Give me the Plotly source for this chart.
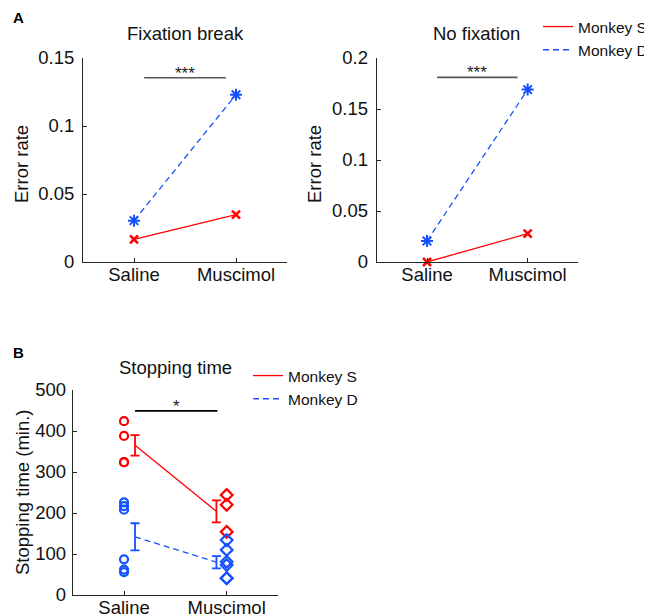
import plotly.graph_objects as go

W, H = 652, 615
OX, OY = 8, 8  # page body margin offset in the browser
RED = "rgb(255,0,0)"
BLUE = "rgb(20,80,255)"
FONT = "Liberation Sans, Arial, Helvetica, sans-serif"
FS = 18.5

# ---------------- data ----------------
conditions = ["Saline", "Muscimol"]
cond_x = [1, 2]

# Panel A: error rates
fix_break_S = [0.0167, 0.0348]
fix_break_D = [0.0304, 0.1230]
no_fix_S = [0.0, 0.0278]
no_fix_D = [0.0206, 0.1690]

# Panel B: stopping time (min.) per session
stop_S_saline = [424, 388, 324, 324]
stop_S_muscimol = [244, 220, 154]
stop_D_saline = [226, 217, 208, 87, 62, 56]
stop_D_muscimol = [134, 110, 81, 73, 41, 41]
mean_x = [1.107, 1.90]
stop_S_mean = [365, 204]
stop_S_sem = [25, 27]
stop_D_mean = [142, 80]
stop_D_sem = [33, 15]

# significance bars: (x0, x1, y, label)
sig_A1 = (1.1, 1.9, 0.1355, "***")
sig_A2 = (1.1, 1.9, 0.181, "***")
sig_B = (1.107, 1.91, 449, "*")

A_left_ticks = [0, 0.05, 0.1, 0.15]
A_left_labels = ["0", "0.05", "0.1", "0.15"]
A_right_ticks = [0, 0.05, 0.1, 0.15, 0.2]
A_right_labels = ["0", "0.05", "0.1", "0.15", "0.2"]
B_ticks = [0, 100, 200, 300, 400, 500]
B_labels = ["0", "100", "200", "300", "400", "500"]

fig = go.Figure()

def px(x):
    return (x - OX) / W

def py(y):
    return 1 - (y - OY) / H

def dom_x(a, b):
    return [px(a), px(b)]

def dom_y(top, bottom):
    return [py(bottom), py(top)]

# ---------- Panel A left ----------
for name, ys, col, dash, sym, size, lw in [
    ("Monkey S", fix_break_S, RED, "solid", "x-thin-open", 8, 2.5),
    ("Monkey D", fix_break_D, BLUE, "6px,4px", "asterisk-open", 10, 2),
]:
    fig.add_trace(go.Scatter(x=cond_x, y=ys, mode="lines", name=name,
                             line=dict(color=col, width=1.3, dash=dash),
                             xaxis="x", yaxis="y", legend="legend", showlegend=True))
    fig.add_trace(go.Scatter(x=cond_x, y=ys, mode="markers", showlegend=False,
                             marker=dict(symbol=sym, size=size, color=col,
                                         line=dict(color=col, width=lw)),
                             xaxis="x", yaxis="y", cliponaxis=False))

# ---------- Panel A right ----------
for name, ys, col, dash, sym, size, lw in [
    ("Monkey S", no_fix_S, RED, "solid", "x-thin-open", 8, 2.5),
    ("Monkey D", no_fix_D, BLUE, "6px,4px", "asterisk-open", 10, 2),
]:
    fig.add_trace(go.Scatter(x=cond_x, y=ys, mode="lines", showlegend=False,
                             line=dict(color=col, width=1.3, dash=dash),
                             xaxis="x2", yaxis="y2"))
    fig.add_trace(go.Scatter(x=cond_x, y=ys, mode="markers", showlegend=False,
                             marker=dict(symbol=sym, size=size, color=col,
                                         line=dict(color=col, width=lw)),
                             xaxis="x2", yaxis="y2", cliponaxis=False))

# ---------- Panel B ----------
for name, means, sems, col, dash in [
    ("Monkey S", stop_S_mean, stop_S_sem, RED, "solid"),
    ("Monkey D", stop_D_mean, stop_D_sem, BLUE, "6px,4px"),
]:
    fig.add_trace(go.Scatter(x=mean_x, y=means, mode="lines", name=name,
                             line=dict(color=col, width=1.3, dash=dash),
                             xaxis="x3", yaxis="y3", legend="legend2"))
    fig.add_trace(go.Scatter(x=mean_x, y=means, mode="markers", showlegend=False,
                             marker=dict(size=1, color="rgba(0,0,0,0)"),
                             error_y=dict(type="data", array=sems, color=col,
                                          thickness=1.8, width=4.5),
                             xaxis="x3", yaxis="y3"))
for xs, ys, col, sym in [
    ([1] * len(stop_S_saline), stop_S_saline, RED, "circle-open"),
    ([2] * len(stop_S_muscimol), stop_S_muscimol, RED, "diamond-open"),
    ([1] * len(stop_D_saline), stop_D_saline, BLUE, "circle-open"),
    ([2] * len(stop_D_muscimol), stop_D_muscimol, BLUE, "diamond-open"),
]:
    fig.add_trace(go.Scatter(x=xs, y=ys, mode="markers", showlegend=False,
                             marker=dict(symbol=sym, size=8 if sym == "circle-open" else 9,
                                         color=col, line=dict(color=col, width=2.2)),
                             xaxis="x3", yaxis="y3", cliponaxis=False))

# significance bars and stars
annotations = []
shapes = []
for (x0, x1, yv, lab), xr, yr, col in [
    (sig_A1, "x", "y", "#555555"),
    (sig_A2, "x2", "y2", "#555555"),
    (sig_B, "x3", "y3", "#000000"),
]:
    shapes.append(dict(type="line", xref=xr, yref=yr, x0=x0, x1=x1, y0=yv, y1=yv,
                       line=dict(color=col, width=1.6)))
    annotations.append(dict(xref=xr, yref=yr, x=(x0 + x1) / 2, y=yv, text=lab,
                            showarrow=False, yanchor="bottom", yshift=-7,
                            font=dict(size=17, color="#222222", family=FONT)))

# titles
for txt, xc, yc in [("Fixation break", 185, 33), ("No fixation", 477, 33),
                    ("Stopping time", 175, 367)]:
    annotations.append(dict(xref="paper", yref="paper", x=px(xc), y=py(yc),
                            text=txt, showarrow=False, xanchor="center", yanchor="middle",
                            font=dict(size=FS, color="#111111", family=FONT)))
# y-axis titles
for txt, xc, yc in [("Error rate", 21, 164), ("Error rate", 314, 164),
                    ("Stopping time (min.)", 22, 492)]:
    annotations.append(dict(xref="paper", yref="paper", x=px(xc), y=py(yc),
                            text=txt, showarrow=False, xanchor="center", yanchor="middle",
                            textangle=-90,
                            font=dict(size=FS, color="#111111", family=FONT)))
# panel letters
for txt, xc, yc in [("A", 18, 18), ("B", 18, 352)]:
    annotations.append(dict(xref="paper", yref="paper", x=px(xc), y=py(yc),
                            text="<b>%s</b>" % txt, showarrow=False, xanchor="center",
                            yanchor="middle", font=dict(size=15, color="#000000", family=FONT)))

axis_common = dict(showline=True, linecolor="#262626", linewidth=1, ticks="inside",
                   ticklen=4, tickcolor="#262626", showgrid=False, zeroline=False,
                   automargin=False,
                   tickfont=dict(size=FS, color="#111111", family=FONT))

xax = dict(range=[0.5, 2.5], tickvals=cond_x, ticktext=conditions,
           ticklabelstandoff=-4, **axis_common)

fig.update_layout(
    width=W, height=H, margin=dict(l=0, r=0, t=0, b=0, autoexpand=False),
    paper_bgcolor="white", plot_bgcolor="white",
    font=dict(family=FONT),
    xaxis=dict(domain=dom_x(83, 287), anchor="y", **xax),
    yaxis=dict(domain=dom_y(58, 262), anchor="x", range=[0, 0.15],
               tickvals=A_left_ticks, ticktext=A_left_labels,
               ticklabelstandoff=4, **axis_common),
    xaxis2=dict(domain=dom_x(376.7, 578), anchor="y2", **xax),
    yaxis2=dict(domain=dom_y(58, 262), anchor="x2", range=[0, 0.2],
                tickvals=A_right_ticks, ticktext=A_right_labels,
                ticklabelstandoff=4, **axis_common),
    xaxis3=dict(domain=dom_x(72.7, 278), anchor="y3", **xax),
    yaxis3=dict(domain=dom_y(390, 595), anchor="x3", range=[0, 500],
                tickvals=B_ticks, ticktext=B_labels,
                ticklabelstandoff=2, **axis_common),
    legend=dict(x=px(538), y=py(10), xanchor="left", yanchor="top",
                bgcolor="rgba(0,0,0,0)", font=dict(size=15.5, color="#111111", family=FONT),
                tracegroupgap=0),
    legend2=dict(x=px(248), y=py(359), xanchor="left", yanchor="top",
                 bgcolor="rgba(0,0,0,0)", font=dict(size=15.5, color="#111111", family=FONT),
                 tracegroupgap=0),
    shapes=shapes,
    annotations=annotations,
)

fig.write_html("out.html")
